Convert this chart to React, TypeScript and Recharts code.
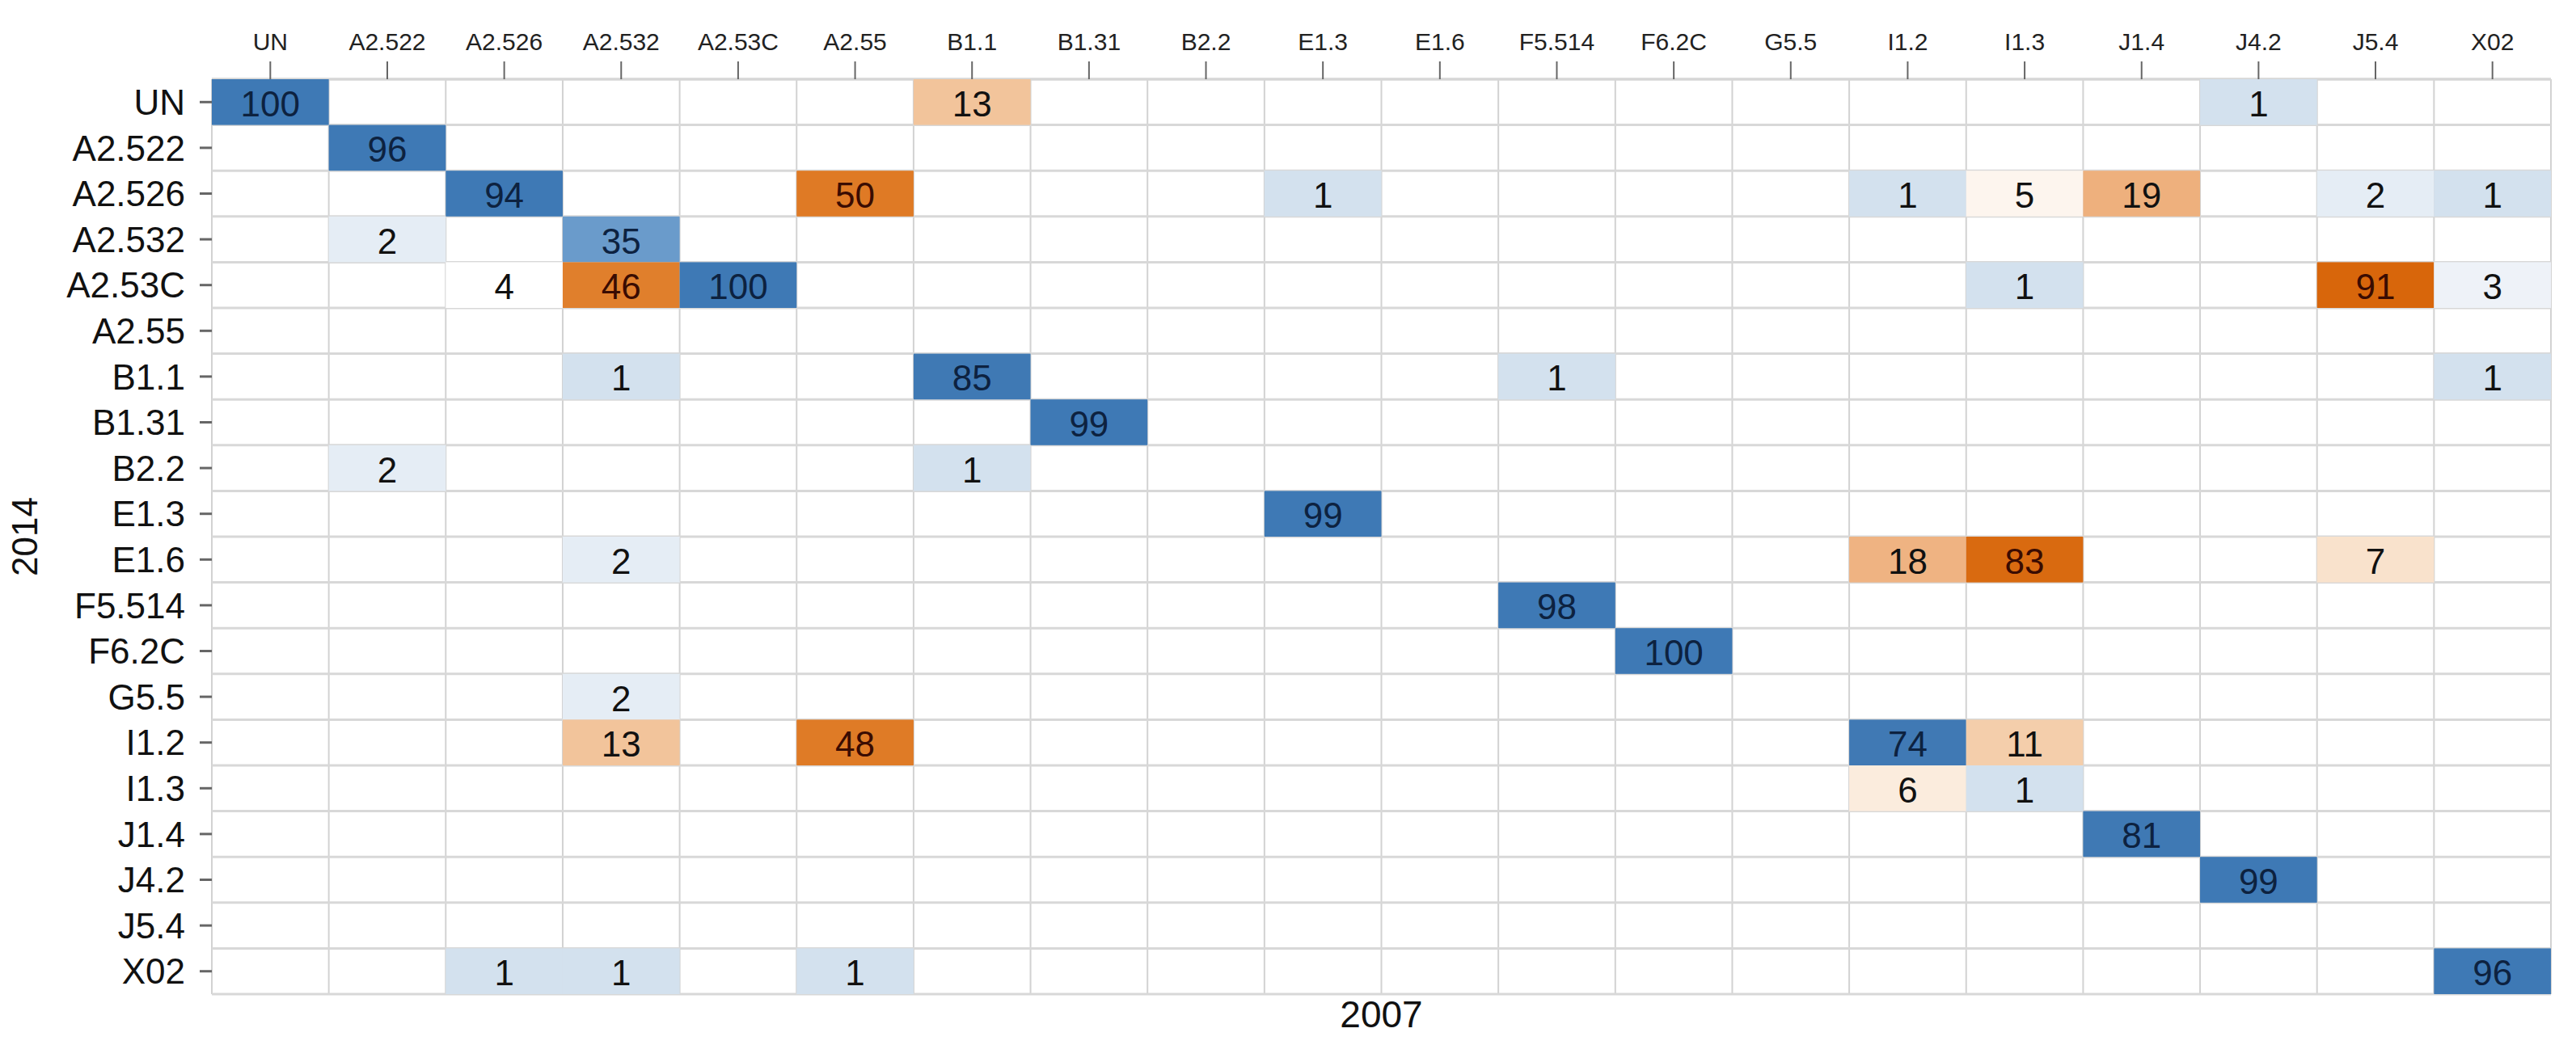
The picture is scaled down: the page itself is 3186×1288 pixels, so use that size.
import { ScatterChart, Scatter, XAxis, YAxis, CartesianGrid } from "recharts"

// class codes, same order on both axes (columns = 2007, rows = 2014)
const classes2007 = ["UN", "A2.522", "A2.526", "A2.532", "A2.53C", "A2.55", "B1.1", "B1.31", "B2.2", "E1.3", "E1.6", "F5.514", "F6.2C", "G5.5", "I1.2", "I1.3", "J1.4", "J4.2", "J5.4", "X02"]
const classes2014 = ["UN", "A2.522", "A2.526", "A2.532", "A2.53C", "A2.55", "B1.1", "B1.31", "B2.2", "E1.3", "E1.6", "F5.514", "F6.2C", "G5.5", "I1.2", "I1.3", "J1.4", "J4.2", "J5.4", "X02"]

// [row 2014, column 2007, percent]
const transitions: [string, string, number][] = [
  ["UN", "UN", 100], ["UN", "B1.1", 13], ["UN", "J4.2", 1],
  ["A2.522", "A2.522", 96],
  ["A2.526", "A2.526", 94], ["A2.526", "A2.55", 50], ["A2.526", "E1.3", 1], ["A2.526", "I1.2", 1],
  ["A2.526", "I1.3", 5], ["A2.526", "J1.4", 19], ["A2.526", "J5.4", 2], ["A2.526", "X02", 1],
  ["A2.532", "A2.522", 2], ["A2.532", "A2.532", 35],
  ["A2.53C", "A2.526", 4], ["A2.53C", "A2.532", 46], ["A2.53C", "A2.53C", 100], ["A2.53C", "I1.3", 1],
  ["A2.53C", "J5.4", 91], ["A2.53C", "X02", 3],
  ["B1.1", "A2.532", 1], ["B1.1", "B1.1", 85], ["B1.1", "F5.514", 1], ["B1.1", "X02", 1],
  ["B1.31", "B1.31", 99],
  ["B2.2", "A2.522", 2], ["B2.2", "B1.1", 1],
  ["E1.3", "E1.3", 99],
  ["E1.6", "A2.532", 2], ["E1.6", "I1.2", 18], ["E1.6", "I1.3", 83], ["E1.6", "J5.4", 7],
  ["F5.514", "F5.514", 98],
  ["F6.2C", "F6.2C", 100],
  ["G5.5", "A2.532", 2],
  ["I1.2", "A2.532", 13], ["I1.2", "A2.55", 48], ["I1.2", "I1.2", 74], ["I1.2", "I1.3", 11],
  ["I1.3", "I1.2", 6], ["I1.3", "I1.3", 1],
  ["J1.4", "J1.4", 81],
  ["J4.2", "J4.2", 99],
  ["X02", "A2.526", 1], ["X02", "A2.532", 1], ["X02", "A2.55", 1], ["X02", "X02", 96],
]

const W = 3186
const H = 1288
const M = { top: 20, right: 31, bottom: 0, left: 0 }
const Y_AXIS_W = 262
const X_TOP_H = 78
const X_BOTTOM_H = 58
const PLOT_W = W - M.left - M.right - Y_AXIS_W
const PLOT_H = H - M.top - M.bottom - X_TOP_H - X_BOTTOM_H
const CELL_W = PLOT_W / classes2007.length
const CELL_H = PLOT_H / classes2014.length

const FONT = "'Liberation Sans', Arial, sans-serif"

const hex = (h: string) => [1, 3, 5].map((i) => parseInt(h.slice(i, i + 2), 16))
const mix = (a: string, b: string, t: number) => {
  const ca = hex(a), cb = hex(b)
  return "rgb(" + ca.map((v, i) => Math.round(v + (cb[i] - v) * t)).join(",") + ")"
}
const ramp = (stops: [number, string][], v: number) => {
  if (v <= stops[0][0]) return stops[0][1]
  for (let i = 1; i < stops.length; i++) {
    if (v <= stops[i][0]) {
      const [v0, c0] = stops[i - 1]
      const [v1, c1] = stops[i]
      return mix(c0, c1, (v - v0) / (v1 - v0))
    }
  }
  return stops[stops.length - 1][1]
}

const blueStops: [number, string][] = [[1, "#d3e1ee"], [35, "#6a9bcb"], [74, "#4079b4"], [100, "#3e79b5"]]
const orangeStops: [number, string][] = [[4, "#ffffff"], [5, "#fdf5ee"], [7, "#f9e2cc"], [13, "#f2c49b"], [19, "#eeb07d"], [48, "#df7b26"], [91, "#d8660b"]]
const paleBlue = ["#ffffff", "#d3e1ee", "#e5edf5", "#eef2f8"]

const cellFill = (diag: boolean, v: number) => {
  if (diag) return ramp(blueStops, v)
  if (v < 4) return paleBlue[v]
  return ramp(orangeStops, v)
}
const textFill = (diag: boolean, v: number) => {
  if (diag && v > 30) return "#0d2240"
  if (!diag && v > 30) return "#3a0c02"
  return "#111111"
}

const cells = transitions.map(([r, c, v]) => ({
  x: classes2007.indexOf(c) + 0.5,
  y: classes2014.indexOf(r) + 0.5,
  value: v,
  diag: r === c,
}))

const centers = classes2007.map((_, i) => i + 0.5)

const Cell = (props: any) => {
  const { cx, cy, payload } = props
  const fill = cellFill(payload.diag, payload.value)
  return (
    <g>
      <rect x={cx - CELL_W / 2} y={cy - CELL_H / 2} width={CELL_W} height={CELL_H} fill={fill} />
      <text
        x={cx}
        y={cy + 2}
        textAnchor="middle"
        dominantBaseline="central"
        fontSize={44}
        fontFamily={FONT}
        fill={textFill(payload.diag, payload.value)}
      >
        {payload.value}
      </text>
    </g>
  )
}

const bounds = (start: number, size: number, n: number) =>
  Array.from({ length: n + 1 }, (_, i) => start + (size * i) / n)

export default function App() {
  return (
    <div style={{ position: "absolute", left: 0, top: 0, width: W, height: H, background: "#fff" }}>
      <ScatterChart width={W} height={H} margin={M}>
        <CartesianGrid
          horizontal={false}
          stroke="#d2d2d2"
          strokeWidth={2}
          verticalCoordinatesGenerator={({ offset }: any) => bounds(offset.left, offset.width, classes2007.length)}
        />
        <CartesianGrid
          vertical={false}
          stroke="#d8d8d8"
          strokeWidth={3}
          horizontalCoordinatesGenerator={({ offset }: any) => bounds(offset.top, offset.height, classes2014.length)}
        />
        <XAxis
          xAxisId="top"
          orientation="top"
          type="number"
          dataKey="x"
          domain={[0, classes2007.length]}
          ticks={centers}
          interval={0}
          height={X_TOP_H}
          tickFormatter={(v: number) => classes2007[Math.floor(v)]}
          tick={{ fontSize: 30, fontFamily: FONT, fill: "#222" }}
          tickSize={22}
          tickMargin={14}
          tickLine={{ stroke: "#666", strokeWidth: 2 }}
          axisLine={{ stroke: "#d6d6d6", strokeWidth: 3 }}
        />
        <XAxis
          xAxisId="bottom"
          orientation="bottom"
          type="number"
          dataKey="x"
          domain={[0, classes2007.length]}
          height={X_BOTTOM_H}
          tick={false}
          tickLine={false}
          axisLine={false}
          label={{ value: "2007", position: "insideTop", offset: 8, fontSize: 46, fontFamily: FONT, fill: "#111" }}
        />
        <YAxis
          type="number"
          dataKey="y"
          domain={[0, classes2014.length]}
          reversed
          ticks={centers}
          interval={0}
          width={Y_AXIS_W}
          tickFormatter={(v: number) => classes2014[Math.floor(v)]}
          tick={{ fontSize: 44, fontFamily: FONT, fill: "#111" }}
          tickSize={15}
          tickMargin={18}
          tickLine={{ stroke: "#666", strokeWidth: 3 }}
          axisLine={false}
          label={{
            value: "2014",
            angle: -90,
            position: "insideLeft",
            offset: 30,
            fontSize: 44,
            fontFamily: FONT,
            fill: "#111",
            style: { textAnchor: "middle" },
          }}
        />
        <Scatter xAxisId="top" data={cells} shape={<Cell />} isAnimationActive={false} />
      </ScatterChart>
    </div>
  )
}
